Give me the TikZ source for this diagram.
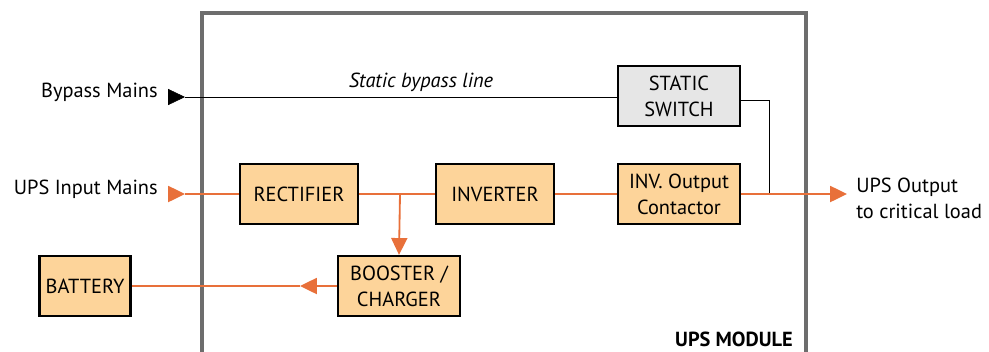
\documentclass[tikz,border=0pt]{standalone}
\usepackage{fontspec}
\setmainfont{PT Sans}
\usetikzlibrary{arrows.meta,calc}
\definecolor{upsorange}{HTML}{E8703A}
\definecolor{boxorange}{HTML}{FDD49A}
\definecolor{boxgray}{HTML}{E6E6E6}
\definecolor{framegray}{HTML}{6D6D6D}
\tikzset{
  block/.style={draw=black,line width=1.6pt,fill=boxorange,align=center,
    minimum width=2.95cm,minimum height=1.5cm,inner sep=1pt},
  label text/.style={align=left,inner sep=0pt},
  power/.style={upsorange,line width=1.3pt},
  tri/.style={-{Triangle[length=0.42cm,width=0.4cm]}}
}
\begin{document}
\begin{tikzpicture}[x=0.025cm,y=-0.025cm,font=\fontsize{14.5}{18.5}\selectfont]
				\useasboundingbox (0,0) rectangle (989,351);
				% module frame
				\draw[framegray,line width=2.8pt] (202,360) -- (202,13) -- (806,13) -- (806,360);
				\node[anchor=south east,inner sep=0pt,font=\fontsize{14.5}{16}\selectfont\bfseries] (module) at (793,347) {UPS MODULE};
				
				% blocks
				\node[block,fill=boxgray,minimum width=3.05cm] (sswitch) at (679,96)  {STATIC\\SWITCH};
				\node[block] (rect) at (299,194)  {RECTIFIER};
				\node[block] (inv) at (495,194)  {INVERTER};
				\node[block,minimum width=3.05cm] (contact) at (679,194)  {INV. Output\\Contactor};
				\node[block,minimum width=3.05cm] (booster) at (399,286)  {BOOSTER /\\CHARGER};
				\node[block,minimum width=2.28cm] (battery) at (85,286)  {BATTERY};
				
				% outside labels
				\node[label text,anchor=east] (bypass) at (158,92)  {Bypass Mains};
				\node[label text,anchor=east] (mains) at (158,189)  {UPS Input Mains};
				\node[label text,anchor=west] (output) at (856,198)  {UPS Output\\to critical load};
				\node[label text,font=\fontsize{14.5}{16}\selectfont\itshape] (bypassline) at (421,82)  {Static bypass line};
				
				\coordinate (bypassin) at (185,97);
				\coordinate (mainsin) at (185,194);
				\coordinate (junc) at (400,194);
				\coordinate (ssturn) at (769,100);
				\coordinate (outjoin) at (769,194);
				\coordinate (outtip) at (847,194);
				\coordinate (chgmid) at (300,286);
				
				% bypass path
				\draw[tri,black] (168,97) -- (bypassin);
				\draw[line width=0.7pt] (bypassin) -- (bypassin -| sswitch.west);
				\draw[line width=0.7pt] (ssturn -| sswitch.east) -- (ssturn) -- (outjoin);
				
				% power path
				\draw[tri,power] (168,194) -- (mainsin);
				\foreach \from/\to in {mainsin/rect.west,rect.east/inv.west,inv.east/contact.west}
				\draw[power] (\from) -- (\to);
				\draw[power,tri] (contact.east) -- (outtip);
				\draw[power,tri] (junc) -- (booster.north);
				\draw[power,tri] (booster.west) -- (chgmid);
				\draw[power] (chgmid) -- (battery.east);
				\end{tikzpicture}
\end{document}
